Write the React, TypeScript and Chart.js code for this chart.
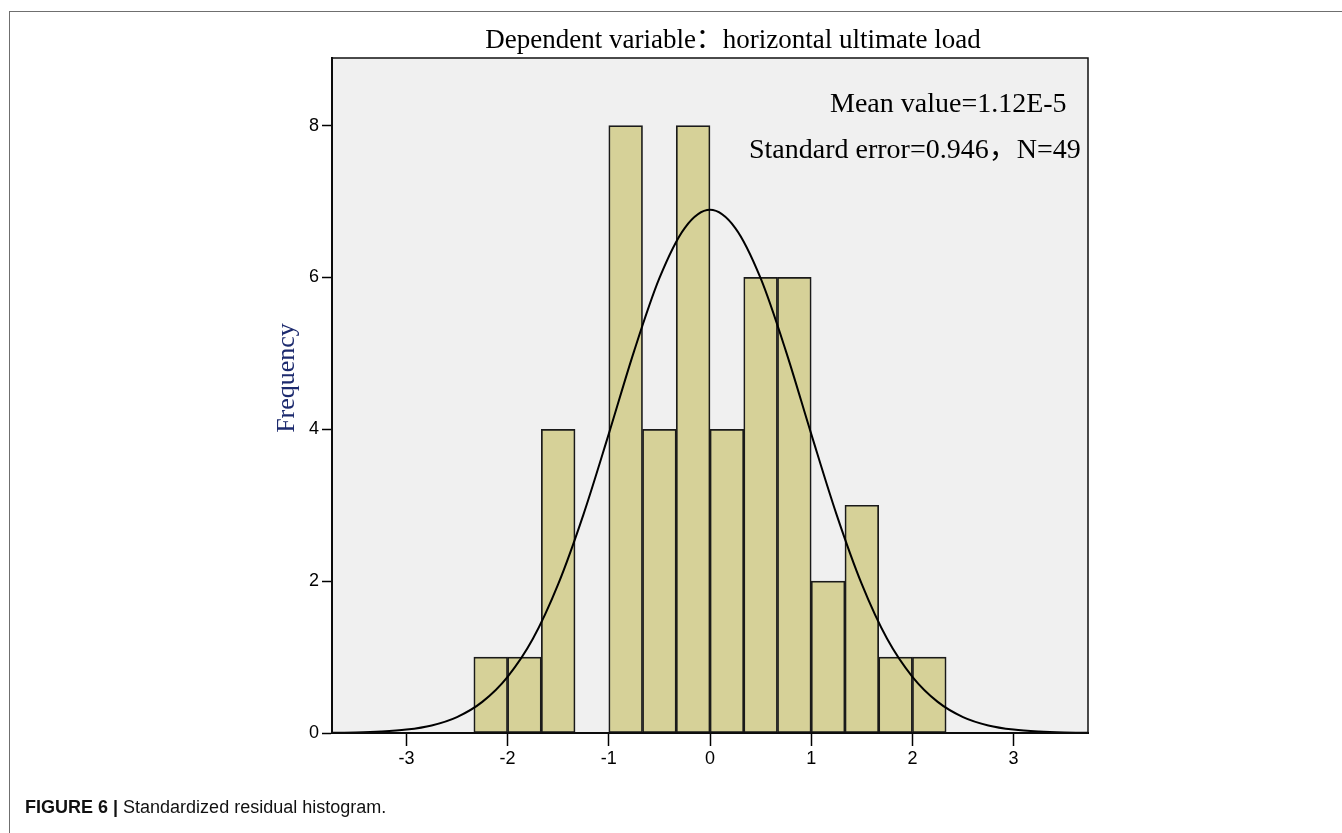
import React, { useEffect, useRef } from "react";
import { Chart, registerables } from "chart.js";

Chart.register(...registerables);

// ---- Data ----
const titleText = "Dependent variable：horizontal ultimate load";
const yAxisTitle = "Frequency";
const statLines = ["Mean value=1.12E-5", "Standard error=0.946，N=49"];
const captionBold = "FIGURE 6 |";
const captionText = " Standardized residual histogram.";

const binWidth = 1 / 3;
const binLower = [-7 / 3, -2, -5 / 3, -4 / 3, -1, -2 / 3, -1 / 3, 0, 1 / 3, 2 / 3, 1, 4 / 3, 5 / 3, 2];
const binCounts = [1, 1, 4, 0, 8, 4, 8, 4, 6, 6, 2, 3, 1, 1];

const curveX = [
  -3.75, -3.5, -3.25, -3, -2.75, -2.5, -2.25, -2, -1.75, -1.5, -1.25, -1, -0.75, -0.5, -0.25, 0,
  0.25, 0.5, 0.75, 1, 1.25, 1.5, 1.75, 2, 2.25, 2.5, 2.75, 3, 3.25, 3.5, 3.75,
];
const curveY = [
  0.003, 0.007, 0.019, 0.045, 0.1, 0.21, 0.41, 0.74, 1.24, 1.96, 2.88, 3.94, 5.03, 5.99, 6.65, 6.89,
  6.65, 5.99, 5.03, 3.94, 2.88, 1.96, 1.24, 0.74, 0.41, 0.21, 0.1, 0.045, 0.019, 0.007, 0.003,
];

const xMin = -3.735;
const xMax = 3.735;
const yMax = 8.89;

const SERIF = '"Liberation Serif", "Times New Roman", "Noto Sans CJK SC", serif';
const SANS = '"Liberation Sans", Arial, sans-serif';

const overlayPlugin = {
  id: "overlay",
  beforeDraw(chart: any) {
    const { ctx, chartArea } = chart;
    ctx.save();
    ctx.fillStyle = "#ffffff";
    ctx.fillRect(0, 0, chart.width, chart.height);
    ctx.fillStyle = "#f0f0f0";
    ctx.fillRect(chartArea.left, chartArea.top, chartArea.right - chartArea.left, chartArea.bottom - chartArea.top);
    ctx.restore();
  },
  afterDraw(chart: any) {
    const { ctx, chartArea } = chart;
    ctx.save();
    // plot frame
    ctx.strokeStyle = "#111";
    ctx.lineWidth = 1.5;
    ctx.strokeRect(chartArea.left, chartArea.top, chartArea.right - chartArea.left, chartArea.bottom - chartArea.top);

    // title
    ctx.fillStyle = "#000";
    ctx.font = `27px ${SERIF}`;
    ctx.textAlign = "center";
    ctx.textBaseline = "alphabetic";
    ctx.fillText(titleText, 733, 48);

    // statistics
    ctx.font = `28px ${SERIF}`;
    ctx.textAlign = "left";
    ctx.fillText(statLines[0], 830, 112);
    ctx.fillText(statLines[1], 749, 158);

    // y axis title
    ctx.fillStyle = "#1c2a6e";
    ctx.font = `26px ${SERIF}`;
    ctx.translate(294, 378);
    ctx.rotate(-Math.PI / 2);
    ctx.textAlign = "center";
    ctx.fillText(yAxisTitle, 0, 0);
    ctx.restore();
  },
};

export default function App() {
  const canvasRef = useRef<HTMLCanvasElement | null>(null);

  useEffect(() => {
    if (!canvasRef.current) return;
    const barData = binLower.map((lo, i) => ({ x: lo + binWidth / 2, y: binCounts[i] }));
    const lineData = curveX.map((x, i) => ({ x, y: curveY[i] }));

    const chart = new Chart(canvasRef.current, {
      type: "bar",
      data: {
        datasets: [
          {
            type: "line",
            label: "Normal curve",
            data: lineData,
            borderColor: "#000",
            borderWidth: 2,
            pointRadius: 0,
            fill: false,
            cubicInterpolationMode: "monotone",
            order: 0,
          } as any,
          {
            type: "bar",
            label: "Frequency",
            data: barData,
            backgroundColor: "#d6d198",
            borderColor: "#1a1a1a",
            borderWidth: 1.7,
            borderSkipped: false,
            barPercentage: 1,
            categoryPercentage: 1,
            order: 1,
          } as any,
        ],
      },
      options: {
        responsive: false,
        animation: false,
        devicePixelRatio: 1,
        layout: { padding: { left: 0, top: 58, right: 254, bottom: 60 } },
        plugins: {
          legend: { display: false },
          title: { display: false },
          tooltip: { enabled: false },
        },
        scales: {
          x: {
            type: "linear",
            min: xMin,
            max: xMax,
            offset: false,
            grid: {
              offset: false,
              drawOnChartArea: false,
              drawTicks: true,
              tickLength: 13,
              tickColor: "#000",
              tickWidth: 1.5,
            },
            border: { display: true, color: "#000", width: 2 },
            ticks: {
              stepSize: 1,
              includeBounds: false,
              color: "#000",
              font: { family: SANS, size: 18 },
              padding: 2,
              maxRotation: 0,
            },
            afterFit(scale: any) {
              scale.height = 40;
            },
          },
          y: {
            type: "linear",
            min: 0,
            max: yMax,
            grid: {
              drawOnChartArea: false,
              drawTicks: true,
              tickLength: 10,
              tickColor: "#000",
              tickWidth: 1.5,
            },
            border: { display: true, color: "#000", width: 2 },
            ticks: {
              stepSize: 2,
              includeBounds: false,
              color: "#000",
              font: { family: SANS, size: 18 },
              padding: 3,
            },
            afterFit(scale: any) {
              scale.width = 332;
            },
          },
        },
      },
      plugins: [overlayPlugin],
    } as any);

    return () => chart.destroy();
  }, []);

  return (
    <div style={{ position: "fixed", left: 0, top: 0, width: 1342, height: 833, background: "#fff" }}>
      <canvas ref={canvasRef} width={1342} height={833} style={{ position: "absolute", left: 0, top: 0 }} />
      <div
        style={{
          position: "absolute",
          left: 9,
          top: 11,
          right: 0,
          bottom: 0,
          borderTop: "1px solid #6f6f6f",
          borderLeft: "1px solid #6f6f6f",
          pointerEvents: "none",
        }}
      />
      <div
        style={{
          position: "absolute",
          left: 25,
          top: 797,
          lineHeight: "21px",
          font: `18px ${SANS}`,
          color: "#111",
          whiteSpace: "nowrap",
        }}
      >
        <b>{captionBold}</b>
        {captionText}
      </div>
    </div>
  );
}
